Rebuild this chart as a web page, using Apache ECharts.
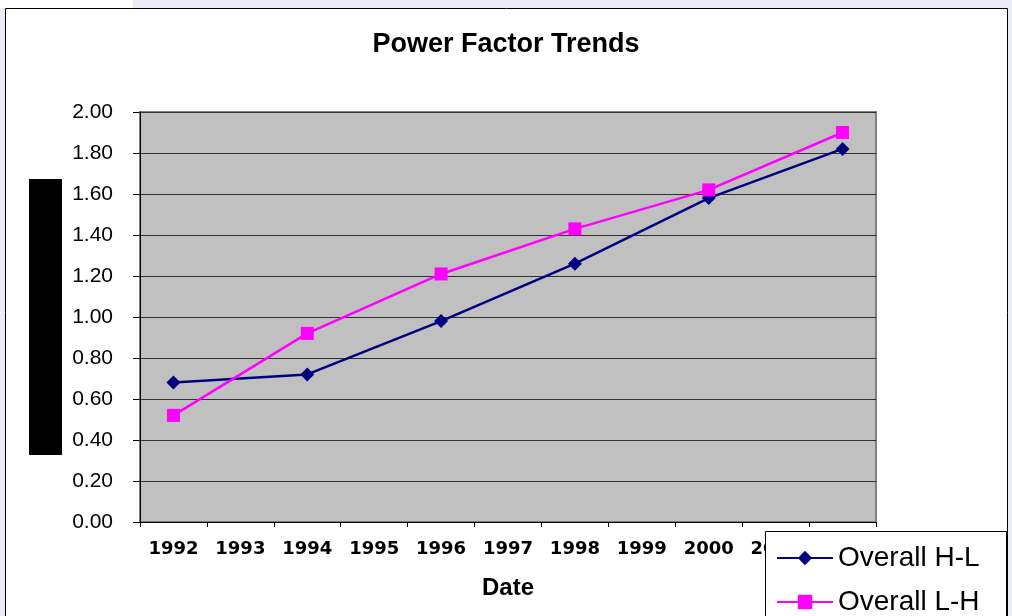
<!DOCTYPE html>
<html>
<head>
<meta charset="utf-8">
<script src="https://cdn.jsdelivr.net/npm/echarts@6/dist/echarts.min.js"></script>
<style>
  html, body { margin: 0; padding: 0; background: #ebebf5; }
  #chart { width: 1012px; height: 616px; }
</style>
</head>
<body>
<div id="chart"></div>
<script>
const years = ["1992", "1993", "1994", "1995", "1996", "1997", "1998", "1999", "2000", "2001", "2002"];
const overallHL = [0.68, null, 0.72, null, 0.98, null, 1.26, null, 1.58, null, 1.82];
const overallLH = [0.52, null, 0.92, null, 1.21, null, 1.43, null, 1.62, null, 1.90];

const myCharts = echarts.init(document.getElementById("chart"));

const echartsOption = {
  backgroundColor: "#ebebf5",
  animation: false,
  textStyle: { fontFamily: "Liberation Sans, Arial, sans-serif", color: "#000" },
  title: {
    text: "Power Factor Trends",
    left: "center",
    top: 26,
    textStyle: { fontSize: 27, fontWeight: "bold", color: "#000", fontFamily: "Liberation Sans, Arial" }
  },
  graphic: [
    { type: "rect", z: -10, shape: { x: 0, y: 0, width: 133, height: 8 }, style: { fill: "#fff" } },
    { type: "rect", z: -10, shape: { x: 5.5, y: 8.5, width: 1002, height: 620 }, style: { fill: "#fff", stroke: "#000", lineWidth: 1 } },
    // redacted axis title block
    { type: "rect", z: 5, shape: { x: 29, y: 179, width: 33, height: 276 }, style: { fill: "#000" } },
    // legend frame, runs off the bottom edge
    { type: "rect", z: 3, shape: { x: 765.5, y: 531.5, width: 241, height: 120 }, style: { fill: "#fff", stroke: "#000", lineWidth: 1 } }
  ],
  grid: {
    left: 140, top: 112, right: 136, bottom: 94,
    show: true,
    backgroundColor: "#c0c0c0",
    borderColor: "#808080",
    borderWidth: 2
  },
  legend: {
    orient: "vertical",
    left: 765,
    top: 532,
    padding: [12, 10, 0, 11],
    itemWidth: 56,
    itemHeight: 18,
    itemGap: 16,
    textStyle: { fontSize: 28, lineHeight: 28, color: "#000", fontFamily: "Liberation Sans, Arial" },
    data: ["Overall H-L", "Overall L-H"]
  },
  xAxis: {
    type: "category",
    data: years,
    boundaryGap: true,
    name: "Date",
    nameLocation: "middle",
    nameGap: 54,
    nameTextStyle: { fontSize: 24, fontWeight: "bold", color: "#000", fontFamily: "Liberation Sans, Arial" },
    axisLine: { lineStyle: { color: "#000", width: 1 } },
    axisTick: { show: true, length: 5, lineStyle: { color: "#000" } },
    axisLabel: {
      interval: 0,
      margin: 18,
      fontSize: 18,
      fontWeight: "bold",
      color: "#000",
      fontFamily: "DejaVu Sans"
    },
    splitLine: { show: false }
  },
  yAxis: {
    type: "value",
    min: 0,
    max: 2,
    interval: 0.2,
    axisLine: { show: true, lineStyle: { color: "#000", width: 1 } },
    axisTick: { show: true, length: 7, lineStyle: { color: "#000" } },
    axisLabel: {
      margin: 27,
      fontSize: 21,
      color: "#000",
      formatter: v => v.toFixed(2)
    },
    splitLine: { show: true, lineStyle: { color: "#303030", width: 1 } }
  },
  series: [
    {
      name: "Overall H-L",
      type: "line",
      data: overallHL,
      connectNulls: true,
      symbol: "diamond",
      symbolSize: 14,
      itemStyle: { color: "#000080" },
      lineStyle: { color: "#000080", width: 2.5 }
    },
    {
      name: "Overall L-H",
      type: "line",
      data: overallLH,
      connectNulls: true,
      symbol: "rect",
      symbolSize: 13,
      itemStyle: { color: "#ff00ff" },
      lineStyle: { color: "#ff00ff", width: 2.5 }
    }
  ]
};

myCharts.setOption(echartsOption);
</script>
</body>
</html>
